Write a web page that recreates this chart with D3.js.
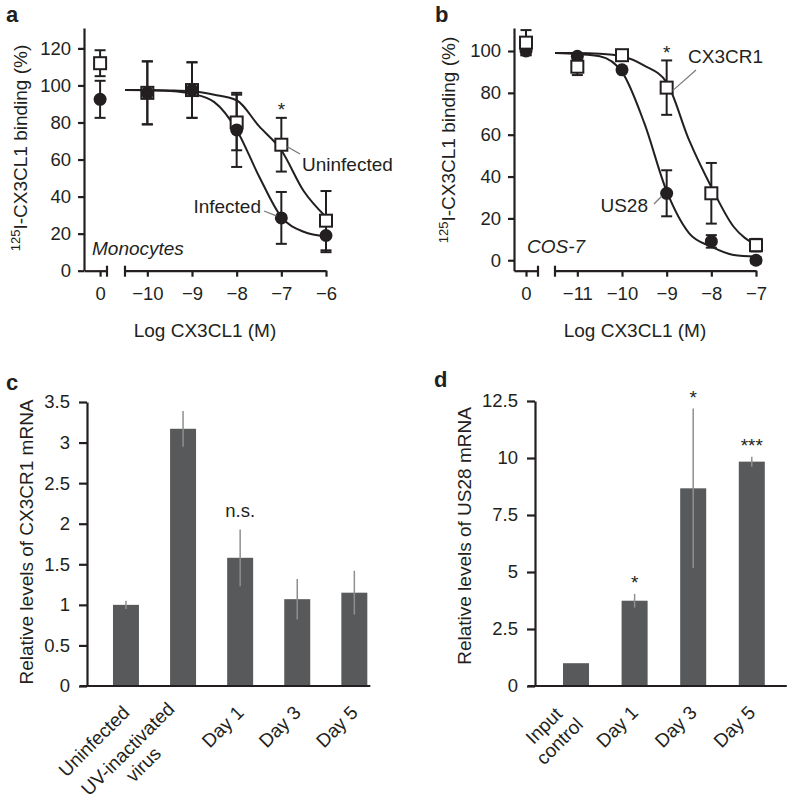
<!DOCTYPE html>
<html><head><meta charset="utf-8">
<script src="https://cdn.jsdelivr.net/npm/d3@7"></script>
<style>
body{margin:0;background:#fff;}
svg{font-family:"Liberation Sans",Arial,Helvetica,sans-serif;}
</style></head><body>
<svg id="c" width="788" height="800"></svg>
<script>
// ---------------- DATA ----------------
// Panel a (monocytes)
const aLogX = [-10, -9, -8, -7, -6];
const aUninfected = [96, 97.5, 80, 68, 27];
const aUninfectedErr = [17, 15, 15, 14.5, 16];
const aInfected = [96, 97.5, 76, 28.5, 19];
const aInfectedErr = [17, 15, 20, 14, 9];
const aZeroUninfected = 112, aZeroUninfectedErr = 7;
const aZeroInfected = 92.5, aZeroInfectedErr = 10;
const aCurveX = [-10.5, -10, -9.5, -9, -8.5, -8, -7.5, -7, -6.5, -6];
const aUninfectedCurve = [97.5, 97.5, 97.3, 96.8, 95, 92, 78, 65, 43, 29];
const aInfectedCurve = [97.5, 97.4, 97, 95.5, 91, 76, 51, 29, 21, 18.5];
const aYTicks = [0, 20, 40, 60, 80, 100, 120];
const aXTicks = [-10, -9, -8, -7, -6];
const aStarX = -7, aStarY = 88;

// Panel b (COS-7)
const bLogX = [-11, -10, -9, -8, -7];
const bCX3CR1 = [92.5, 98, 82.5, 32, 7.2];
const bCX3CR1Err = [4, 1.5, 13, 14.5, 3];
const bUS28 = [97.5, 91, 32, 9, 0];
const bUS28Err = [1, 1, 11, 3, 1.5];
const bZeroCX3CR1 = 104, bZeroCX3CR1Err = 6;
const bZeroUS28 = 100, bZeroUS28Err = 2;
const bCurveX = [-11.5, -11, -10.5, -10, -9.5, -9, -8.5, -8, -7.5, -7];
const bCX3CR1Curve = [99, 99, 98.7, 97.5, 93, 85, 57.5, 35, 16, 7.3];
const bUS28Curve = [99, 98.5, 97.5, 90, 65.5, 33, 13, 6.5, 2.5, 1.7];
const bYTicks = [0, 20, 40, 60, 80, 100];
const bXTicks = [-11, -10, -9, -8, -7];
const bStarX = -9, bStarY = 100;

// Panel c (CX3CR1 mRNA)
const cCategories = ["Uninfected", "UV-inactivated virus", "Day 1", "Day 3", "Day 5"];
const cLabelLines = [["Uninfected"], ["UV-inactivated", "virus"], ["Day 1"], ["Day 3"], ["Day 5"]];
const cValues = [1.0, 3.17, 1.58, 1.07, 1.15];
const cErrors = [0.05, 0.22, 0.35, 0.25, 0.27];
const cMarks = ["", "", "n.s.", "", ""];
const cYTicks = [0, 0.5, 1, 1.5, 2, 2.5, 3, 3.5];

// Panel d (US28 mRNA)
const dCategories = ["Input control", "Day 1", "Day 3", "Day 5"];
const dLabelLines = [["Input", "control"], ["Day 1"], ["Day 3"], ["Day 5"]];
const dValues = [1.0, 3.74, 8.67, 9.84];
const dErrors = [0, 0.3, 3.5, 0.22];
const dMarks = ["", "*", "*", "***"];
const dYTicks = [0, 2.5, 5, 7.5, 10, 12.5];

// ---------------- DRAWING ----------------
const INK = "#231f20";
const BAR = "#58595b";
const ERRC = "#8f8f8f";
const TICK_FS = 18.5, LAB_FS = 19;
const svg = d3.select("#c");
const numFmt = d3.format("~g");

function styleAxis(g) {
  g.selectAll("path,line").attr("stroke", INK).attr("stroke-width", 2.2);
  g.selectAll("text").attr("fill", INK).attr("font-size", TICK_FS)
    .attr("font-family", "'Liberation Sans',Arial,sans-serif");
}

function panelLetter(x, y, t) {
  svg.append("text").attr("x", x).attr("y", y).attr("font-size", 22)
    .attr("font-weight", "bold").attr("fill", INK).text(t);
}

function yTitleBinding(x, cy) {
  const t = svg.append("text").attr("transform", `translate(${x},${cy}) rotate(-90)`)
    .attr("text-anchor", "middle").attr("font-size", LAB_FS).attr("fill", INK);
  t.append("tspan").attr("font-size", 13).attr("dy", -7).text("125");
  t.append("tspan").attr("dy", 7).text("I-CX3CL1 binding (%)");
}

function plainText(x, y, txt, opts = {}) {
  const t = svg.append("text").attr("x", x).attr("y", y).attr("fill", INK)
    .attr("font-size", opts.fs || LAB_FS).attr("text-anchor", opts.anchor || "start")
    .text(txt);
  if (opts.italic) t.attr("font-style", "italic");
  return t;
}

function leader(x1, y1, x2, y2) {
  svg.append("line").attr("x1", x1).attr("y1", y1).attr("x2", x2).attr("y2", y2)
    .attr("stroke", "#777").attr("stroke-width", 1.2);
}

function errBars(g, xs, ys, es, xS, yS) {
  xs.forEach((xv, i) => {
    const cx = xS(xv);
    const y1 = yS(ys[i] - es[i]), y2 = yS(ys[i] + es[i]);
    g.append("line").attr("x1", cx).attr("x2", cx).attr("y1", y1).attr("y2", y2)
      .attr("stroke", INK).attr("stroke-width", 2);
    [y1, y2].forEach(yy => g.append("line").attr("x1", cx - 5.5).attr("x2", cx + 5.5)
      .attr("y1", yy).attr("y2", yy).attr("stroke", INK).attr("stroke-width", 2));
  });
}
function squares(g, xs, ys, xS, yS) {
  xs.forEach((xv, i) => g.append("rect").attr("x", xS(xv) - 6).attr("y", yS(ys[i]) - 6)
    .attr("width", 12).attr("height", 12).attr("fill", "#fff").attr("stroke", INK).attr("stroke-width", 2));
}
function circles(g, xs, ys, xS, yS) {
  xs.forEach((xv, i) => g.append("circle").attr("cx", xS(xv)).attr("cy", yS(ys[i]))
    .attr("r", 6.5).attr("fill", INK));
}

function drawBinding(cfg) {
  const { yS, xZero, xMain, yTicks, xTicks, axisY } = cfg;
  const yAx = svg.append("g").attr("transform", `translate(${xZero.range()[0]},0)`)
    .call(d3.axisLeft(yS).tickValues(yTicks).tickFormat(numFmt).tickSize(6).tickPadding(7).tickSizeOuter(0));
  styleAxis(yAx);
  const x0Ax = svg.append("g").attr("transform", `translate(0,${axisY})`)
    .call(d3.axisBottom(xZero).tickValues([0]).tickFormat(d3.format("d")).tickSize(6).tickPadding(10).tickSizeOuter(0));
  x0Ax.append("line").attr("x1", xZero.range()[1]).attr("x2", xZero.range()[1]).attr("y1", -5).attr("y2", 6);
  styleAxis(x0Ax);
  const xmAx = svg.append("g").attr("transform", `translate(0,${axisY})`)
    .call(d3.axisBottom(xMain).tickValues(xTicks).tickFormat(d3.format("d")).tickSize(6).tickPadding(10).tickSizeOuter(0));
  xmAx.append("line").attr("x1", xMain.range()[0]).attr("x2", xMain.range()[0]).attr("y1", -5).attr("y2", 6);
  styleAxis(xmAx);
  svg.append("text").attr("x", (xZero.range()[0] + xMain.range()[1]) / 2).attr("y", axisY + 66)
    .attr("text-anchor", "middle").attr("font-size", LAB_FS).attr("fill", INK).text("Log CX3CL1 (M)");
}

// ----- Panel a -----
{
  const axisY = 270.7;
  const yS = d3.scaleLinear().domain([0, 131]).range([axisY, 28]);
  const xZero = d3.scaleLinear().domain([-0.7, 0.3]).range([84, 107]);
  const xMain = d3.scaleLinear().domain([-10.5, -6]).range([125, 326]);
  drawBinding({ yS, xZero, xMain, yTicks: aYTicks, xTicks: aXTicks, axisY });
  panelLetter(6, 22, "a");
  yTitleBinding(27, 148);
  const g = svg.append("g");
  const line = d3.line().x(d => xMain(d[0])).y(d => yS(d[1])).curve(d3.curveMonotoneX);
  g.append("path").attr("d", line(d3.zip(aCurveX, aUninfectedCurve))).attr("fill", "none").attr("stroke", INK).attr("stroke-width", 2);
  g.append("path").attr("d", line(d3.zip(aCurveX, aInfectedCurve))).attr("fill", "none").attr("stroke", INK).attr("stroke-width", 2);
  errBars(g, [0], [aZeroUninfected], [aZeroUninfectedErr], xZero, yS);
  errBars(g, [0], [aZeroInfected], [aZeroInfectedErr], xZero, yS);
  errBars(g, aLogX, aUninfected, aUninfectedErr, xMain, yS);
  errBars(g, aLogX, aInfected, aInfectedErr, xMain, yS);
  squares(g, [0], [aZeroUninfected], xZero, yS);
  squares(g, aLogX, aUninfected, xMain, yS);
  circles(g, [0], [aZeroInfected], xZero, yS);
  circles(g, aLogX, aInfected, xMain, yS);
  plainText(xMain(aStarX), yS(aStarY) + 8, "*", { anchor: "middle", fs: 19 });
  plainText(302, 171, "Uninfected");
  leader(xMain(-7) + 6, yS(aUninfected[3]) + 2, 300, 154);
  plainText(261, 213, "Infected", { anchor: "end" });
  leader(264, 211, xMain(-7) - 5, yS(aInfected[3]) - 2);
  plainText(92, 255, "Monocytes", { italic: true });
}

// ----- Panel b -----
{
  const axisY = 270.7;
  const yS = d3.scaleLinear().domain([-5, 111]).range([axisY, 28]);
  const xZero = d3.scaleLinear().domain([-1, 1]).range([514, 538]);
  const xMain = d3.scaleLinear().domain([-11.5, -7]).range([555, 756]);
  drawBinding({ yS, xZero, xMain, yTicks: bYTicks, xTicks: bXTicks, axisY });
  panelLetter(435, 22, "b");
  yTitleBinding(455, 140);
  const g = svg.append("g");
  const line = d3.line().x(d => xMain(d[0])).y(d => yS(d[1])).curve(d3.curveMonotoneX);
  g.append("path").attr("d", line(d3.zip(bCurveX, bCX3CR1Curve))).attr("fill", "none").attr("stroke", INK).attr("stroke-width", 2);
  g.append("path").attr("d", line(d3.zip(bCurveX, bUS28Curve))).attr("fill", "none").attr("stroke", INK).attr("stroke-width", 2);
  errBars(g, [0], [bZeroUS28], [bZeroUS28Err], xZero, yS);
  errBars(g, [0], [bZeroCX3CR1], [bZeroCX3CR1Err], xZero, yS);
  errBars(g, bLogX, bUS28, bUS28Err, xMain, yS);
  errBars(g, bLogX, bCX3CR1, bCX3CR1Err, xMain, yS);
  circles(g, [0], [bZeroUS28], xZero, yS);
  circles(g, bLogX, bUS28, xMain, yS);
  squares(g, [0], [bZeroCX3CR1], xZero, yS);
  squares(g, bLogX, bCX3CR1, xMain, yS);
  plainText(xMain(bStarX), yS(bStarY) + 8, "*", { anchor: "middle", fs: 19 });
  plainText(688, 63, "CX3CR1");
  leader(696, 70, xMain(-9) + 6, yS(bCX3CR1[2]) + 3);
  plainText(648, 212, "US28", { anchor: "end" });
  leader(654, 204, xMain(-9) - 5, yS(bUS28[2]) + 3);
  plainText(527, 253, "COS-7", { italic: true });
}

function drawBars(cfg) {
  const { x0, x1, axisY, yTop, yMax, cats, vals, errs, marks, yTicks, labelLines, title, titleX, titleY, pi, po, lineEnd } = cfg;
  const yS = d3.scaleLinear().domain([0, yMax]).range([axisY, yTop]);
  const xS = d3.scaleBand().domain(cats).range([x0, x1]).paddingInner(pi).paddingOuter(po);
  const bw = xS.bandwidth();
  const yAx = svg.append("g").attr("transform", `translate(${x0},0)`)
    .call(d3.axisLeft(yS).tickValues(yTicks).tickFormat(numFmt).tickSize(8).tickPadding(9).tickSizeOuter(0));
  styleAxis(yAx);
  const g = svg.append("g");
  g.selectAll("rect").data(cats).join("rect")
    .attr("x", d => xS(d)).attr("width", bw)
    .attr("y", (d, i) => yS(vals[i])).attr("height", (d, i) => axisY - yS(vals[i]))
    .attr("fill", BAR);
  cats.forEach((c, i) => {
    if (errs[i] > 0) g.append("line").attr("x1", xS(c) + bw / 2).attr("x2", xS(c) + bw / 2)
      .attr("y1", yS(vals[i] - errs[i])).attr("y2", yS(vals[i] + errs[i]))
      .attr("stroke", ERRC).attr("stroke-width", 1.5);
    if (marks[i]) svg.append("text").attr("x", xS(c) + bw / 2)
      .attr("y", yS(vals[i] + errs[i]) - (marks[i].startsWith("*") ? 5 : 12))
      .attr("text-anchor", "middle").attr("font-size", marks[i].startsWith("*") ? 19 : 18.5)
      .attr("fill", INK).text(marks[i]);
  });
  // x axis baseline
  svg.append("line").attr("x1", x0 - 7).attr("x2", xS(cats[cats.length - 1]) + bw + lineEnd)
    .attr("y1", axisY).attr("y2", axisY).attr("stroke", INK).attr("stroke-width", 2.2);
  // rotated category labels
  cats.forEach((c, i) => {
    const lg = svg.append("g").attr("transform", `translate(${xS(c) + bw / 2},${axisY + 23}) rotate(-45)`);
    const lines = labelLines[i];
    const texts = lines.map((ln, j) => lg.append("text").attr("font-size", LAB_FS).attr("fill", INK)
      .attr("text-anchor", "middle").attr("dy", "0.35em")
      .attr("y", (j - (lines.length - 1) / 2) * 22).text(ln));
    const W = d3.max(texts, t => t.node().getComputedTextLength());
    const shift = lines.length > 1 ? 6 : 0;
    texts.forEach(t => t.attr("x", -W / 2 - shift));
  });
  svg.append("text").attr("transform", `translate(${titleX},${titleY}) rotate(-90)`)
    .attr("text-anchor", "middle").attr("font-size", LAB_FS).attr("fill", INK).text(title);
}

// ----- Panel c -----
panelLetter(6, 390, "c");
drawBars({
  x0: 87, x1: 393.3, axisY: 686, yTop: 402, yMax: 3.5, cats: cCategories, vals: cValues, errs: cErrors,
  marks: cMarks, yTicks: cYTicks, labelLines: cLabelLines, pi: 0.545, po: 0.455, lineEnd: 3,
  title: "Relative levels of CX3CR1 mRNA", titleX: 33, titleY: 542
});

// ----- Panel d -----
panelLetter(434, 387, "d");
drawBars({
  x0: 535, x1: 792.8, axisY: 686, yTop: 401, yMax: 12.5, cats: dCategories, vals: dValues, errs: dErrors,
  marks: dMarks, yTicks: dYTicks, labelLines: dLabelLines, pi: 0.556, po: 0.478, lineEnd: 22,
  title: "Relative levels of US28 mRNA", titleX: 471, titleY: 536
});
</script>
</body></html>
